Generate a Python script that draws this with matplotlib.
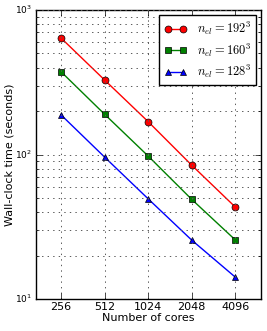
import matplotlib
matplotlib.use("Agg")
import matplotlib.pyplot as plt
from matplotlib.ticker import FixedLocator, FixedFormatter, NullFormatter

cores = [256, 512, 1024, 2048, 4096]
time_192 = [640, 328, 169, 84.5, 43.4]
time_160 = [374, 190, 97.7, 49, 25.7]
time_128 = [188, 96, 49.4, 25.6, 14.2]
labels = [r"$n_{el} = 192^3$", r"$n_{el} = 160^3$", r"$n_{el} = 128^3$"]

plt.style.use("classic")
plt.rcParams["font.size"] = 8

fig = plt.figure(figsize=(2.67, 3.31), dpi=100, facecolor="white")
ax = fig.add_axes([36 / 267, 1 - 299 / 331, 225 / 267, 289 / 331])

ax.plot(cores, time_192, "r-o", ms=5, label=labels[0])
ax.plot(cores, time_160, "g-s", ms=5, label=labels[1])
ax.plot(cores, time_128, "b-^", ms=5, label=labels[2])

ax.set_xscale("log", base=2)
ax.set_yscale("log")
ax.set_xlim(256 / 1.49, 4096 * 1.51)
ax.set_ylim(10, 1000)
ax.xaxis.set_major_locator(FixedLocator(cores))
ax.xaxis.set_major_formatter(FixedFormatter([str(c) for c in cores]))
ax.xaxis.set_minor_formatter(NullFormatter())
ax.tick_params(axis="x", labelsize=8, pad=2)
ax.tick_params(axis="y", labelsize=6.5, pad=3)
ax.grid(True, which="both", linestyle=":", color="0.35", linewidth=0.7)
ax.set_xlabel("Number of cores", fontsize=8, labelpad=1)
ax.set_ylabel("Wall-clock time (seconds)", fontsize=8, labelpad=0)

leg = ax.legend(loc="upper right", fontsize=9, numpoints=2, handlelength=1.8,
                labelspacing=0.35, borderaxespad=0.4, handletextpad=0.8)

fig.savefig("out.png", dpi=100, facecolor="white")
